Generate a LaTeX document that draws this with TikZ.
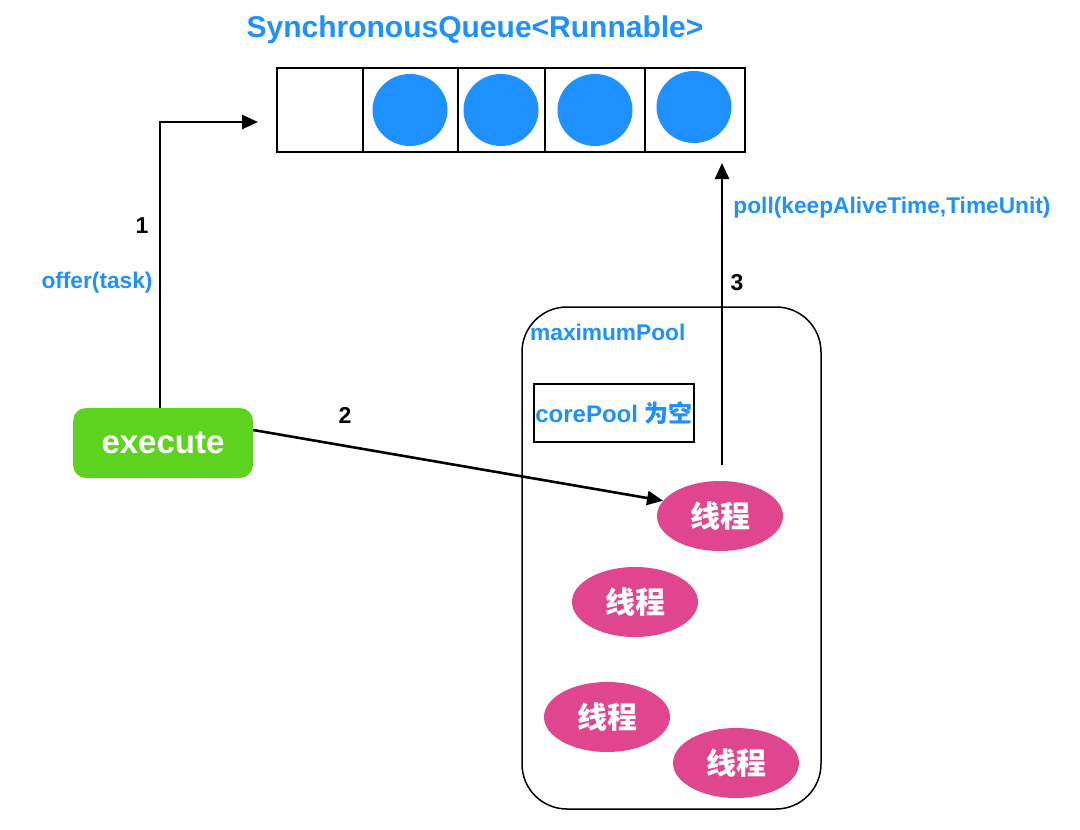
\documentclass[tikz,border=0pt]{standalone}
\usepackage{fontspec}
\setmainfont{Liberation Sans}
\newfontfamily\cjk{Noto Sans CJK SC}
\usetikzlibrary{arrows.meta,shapes.geometric}
\definecolor{QBlue}{RGB}{30,144,255}
\definecolor{ExecGreen}{RGB}{94,211,31}
\definecolor{ThreadPink}{RGB}{224,70,142}
\tikzset{
    flow/.style={line width=2.6pt, -{Triangle[length=16pt,width=14pt]}},
    thread/.style={ellipse, fill=ThreadPink, minimum width=126pt, minimum height=70pt, inner sep=0pt, text=white, font=\cjk\bfseries\fontsize{30}{34}\selectfont},
    bluelabel/.style={text=QBlue, inner sep=0pt, font=\bfseries\fontsize{22.7}{26}\selectfont},
    steplabel/.style={inner sep=0pt, font=\bfseries\fontsize{23}{27}\selectfont},
}

\begin{document}
\begin{tikzpicture}[x=1pt,y=-1pt]
        \useasboundingbox (0,0) rectangle (1080,830);
        \def\qtop{68} % top of the queue
        \def\qbot{152} % bottom of the queue

        % Queue title
        \node[text=QBlue, font=\bfseries\fontsize{30}{35}\selectfont] (qtitle) at (475,30) {SynchronousQueue<Runnable>};

        % Draw the queue cells
        \foreach \l/\r in {277/363, 363/458, 458/545, 545/645, 645/745} {
            \draw[line width=1.8pt] (\l,\qtop) rectangle (\r,\qbot);
        }

        % Tasks waiting in the queue
        \foreach \cx/\cy in {410/110, 501/110, 595/110, 694/107} {
            \fill[QBlue] (\cx,\cy) ellipse (37.5 and 36);
        }

        % The pool and its threads
        \node[draw, line width=1.5pt, rounded corners=45pt, minimum width=299pt, minimum height=502pt] (pool) at (671.5,558) {};
        \node[bluelabel, anchor=west] (maxlabel) at (530,332) {maximumPool};
        \node[draw, line width=1.3pt, minimum width=160pt, minimum height=58pt, inner sep=0pt] (core) at (614,413) {\textcolor{QBlue}{\bfseries\fontsize{24}{28}\selectfont corePool {\cjk 为空}}};

        \node[thread] (t1) at (720,516) {线程};
        \node[thread] (t2) at (635,602) {线程};
        \node[thread] (t3) at (607,717) {线程};
        \node[thread] (t4) at (736,763) {线程};

        % Execute
        \node[fill=ExecGreen, rounded corners=13pt, minimum width=180pt, minimum height=70pt, text=white, font=\bfseries\fontsize{33}{38}\selectfont] (exec) at (163,443) {execute};

        % Step 1: offer
        \coordinate (offerend) at (258,122);
        \draw[flow] ([xshift=-3pt]exec.north) |- (offerend);
        \node[steplabel] (s1) at (142,226) {1};
        \node[bluelabel] (offer) at (97,283) {offer(task)};

        % Step 2: hand over to a thread
        \draw[flow] ([yshift=13pt]exec.east) -- (t1.165);
        \node[steplabel] (s2) at (345,415) {2};

        % Step 3: poll
        \coordinate (pollend) at (722,163);
        \draw[flow] ([xshift=2pt,yshift=16pt]t1.north) -- (pollend);
        \node[steplabel] (s3) at (737,283) {3};
        \node[bluelabel] (poll) at (892,208) {poll(keepAliveTime,TimeUnit)};
\end{tikzpicture}
\end{document}
